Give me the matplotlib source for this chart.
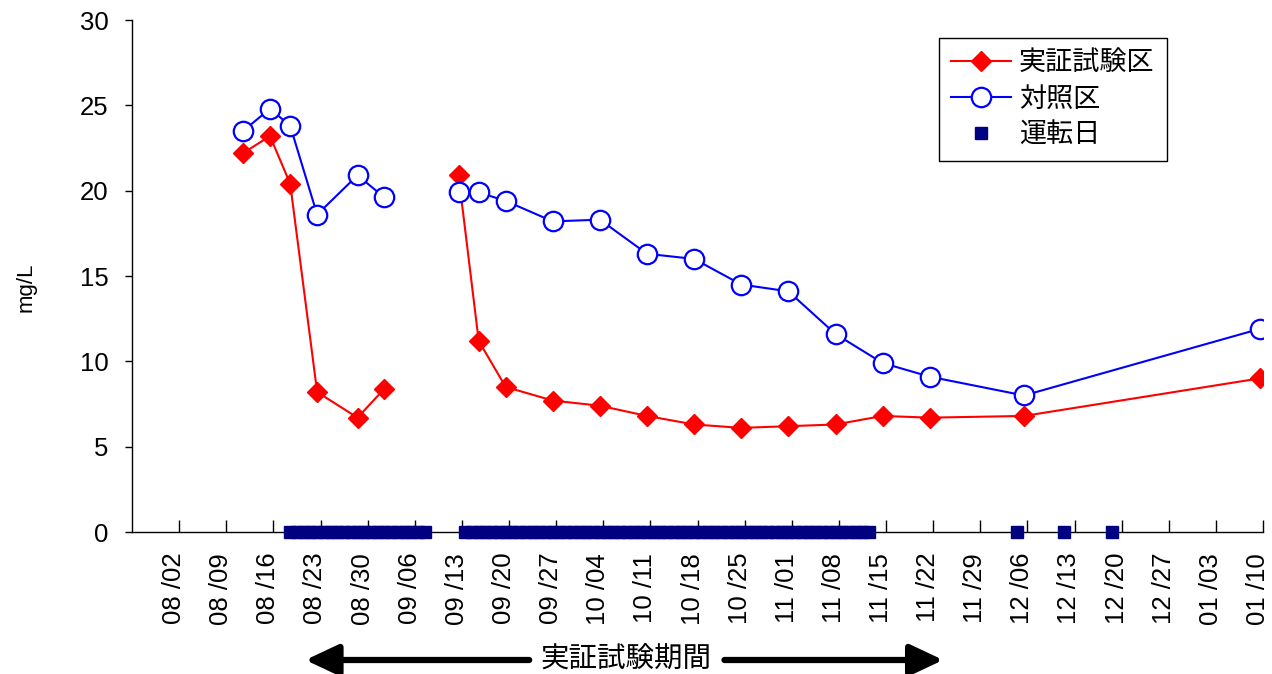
import numpy as np
import pandas as pd
import matplotlib
matplotlib.use('Agg')
import matplotlib.pyplot as plt
import matplotlib.dates as mdates
import matplotlib.transforms as mtransforms

plt.rcParams['font.family'] = ['Liberation Sans', 'Noto Sans CJK JP']

# Sampling dates and concentrations (mg/L)
sample_dates = ["2010-08-11", "2010-08-15", "2010-08-18", "2010-08-22", "2010-08-28",
                "2010-09-01", "2010-09-12", "2010-09-15", "2010-09-19", "2010-09-26",
                "2010-10-03", "2010-10-10", "2010-10-17", "2010-10-24", "2010-10-31",
                "2010-11-07", "2010-11-14", "2010-11-21", "2010-12-05", "2011-01-09"]
test_plot = [22.2, 23.2, 20.4, 8.2, 6.7, 8.4,
             20.9, 11.2, 8.5, 7.7, 7.4, 6.8, 6.3, 6.1, 6.2, 6.3, 6.8, 6.7, 6.8, 9.0]
control_plot = [23.5, 24.8, 23.8, 18.6, 20.9, 19.6,
                19.9, 19.9, 19.4, 18.2, 18.3, 16.3, 16.0, 14.5, 14.1, 11.6, 9.9, 9.1, 8.0, 11.9]
gap_index = 6   # no sampling between 09/01 and 09/12

# Operating days
run_periods = [("2010-08-18", "2010-09-07"), ("2010-09-13", "2010-11-12")]
single_run_days = ["2010-12-04", "2010-12-11", "2010-12-18"]

test_label = '実証試験区'
control_label = '対照区'
run_label = '運転日'
period_label = '実証試験期間'
period_span = ("2010-08-20 18:00", "2010-11-23 12:00")

noon = pd.Timedelta(hours=12)
dates = pd.to_datetime(sample_dates) + noon
run_days = pd.DatetimeIndex(np.concatenate(
    [pd.date_range(a, b, freq='D').values for a, b in run_periods]
    + [pd.to_datetime(single_run_days).values])) + noon

fig = plt.figure(figsize=(12.72, 6.74), dpi=100)
ax = fig.add_axes([132 / 1272, 1 - 532 / 674, (1263 - 132) / 1272, 512 / 674])

red_kw = dict(color='#FF0000', lw=1.5, marker='D', ms=10, mfc='#FF0000', mec='#FF0000', zorder=3)
blue_kw = dict(color='#0000FF', lw=1.5, marker='o', ms=14, mfc='white', mec='#0000FF',
               mew=1.6, zorder=4)

for seg in (slice(0, gap_index), slice(gap_index, None)):
    first = seg.start == 0
    ax.plot(dates[seg], test_plot[seg], label=test_label if first else None, **red_kw)
    ax.plot(dates[seg], control_plot[seg], label=control_label if first else None, **blue_kw)

ax.plot(run_days, np.zeros(len(run_days)), ls='none', marker='s', ms=9, color='#000080',
        label=run_label, clip_on=False, zorder=5)

ax.set_xlim(pd.Timestamp("2010-07-26"), pd.Timestamp("2011-01-10"))
ax.set_ylim(0, 30)
ax.set_yticks(np.arange(0, 31, 5))
ax.set_xticks(pd.date_range("2010-08-02", "2011-01-10", freq='7D'))
ax.xaxis.set_major_formatter(mdates.DateFormatter('%m /%d'))
ax.tick_params(axis='x', direction='in', length=9, width=1, pad=15, labelsize=18.5,
               labelrotation=90)
ax.tick_params(axis='y', direction='out', length=5, width=1, pad=12, labelsize=18.5)

# date labels sit slightly left of their ticks
shift = mtransforms.ScaledTranslation(-5 / 100, 0, fig.dpi_scale_trans)
for lab in ax.get_xticklabels():
    lab.set_transform(lab.get_transform() + shift)

for side in ('top', 'right'):
    ax.spines[side].set_visible(False)
for side in ('left', 'bottom'):
    ax.spines[side].set_linewidth(1)
    ax.spines[side].set_color('black')

ax.set_ylabel('mg/L', fontsize=16)
ax.yaxis.set_label_coords(-0.084, 0.478)

leg = ax.legend(loc='upper left', bbox_to_anchor=(939 / 1272, 1 - 38 / 674),
                bbox_transform=fig.transFigure, borderaxespad=0, fontsize=19.5,
                handlelength=2.2, handletextpad=0.3, labelspacing=0.38,
                fancybox=False, framealpha=1, edgecolor='black', borderpad=0.45)
leg.get_frame().set_linewidth(1)

# Test period arrow below the date labels
xt = ax.get_xaxis_transform()
y_arrow = -0.25
num = mdates.date2num
mid = num(pd.Timestamp("2010-10-07 10:00"))
ax.text(mid, y_arrow, period_label, transform=xt,
        ha='center', va='center', fontsize=20.5)
arrow_kw = dict(arrowstyle='-|>,head_length=1.0,head_width=0.47', lw=4.5,
                color='black', mutation_scale=20, shrinkA=0, shrinkB=0)
for tip, tail in ((period_span[0], "2010-09-23"), (period_span[1], "2010-10-22")):
    ax.annotate('', xy=(num(pd.Timestamp(tip)), y_arrow),
                xytext=(num(pd.Timestamp(tail)), y_arrow),
                xycoords=xt, textcoords=xt,
                arrowprops=arrow_kw, annotation_clip=False)

fig.savefig('out.png', dpi=100)
